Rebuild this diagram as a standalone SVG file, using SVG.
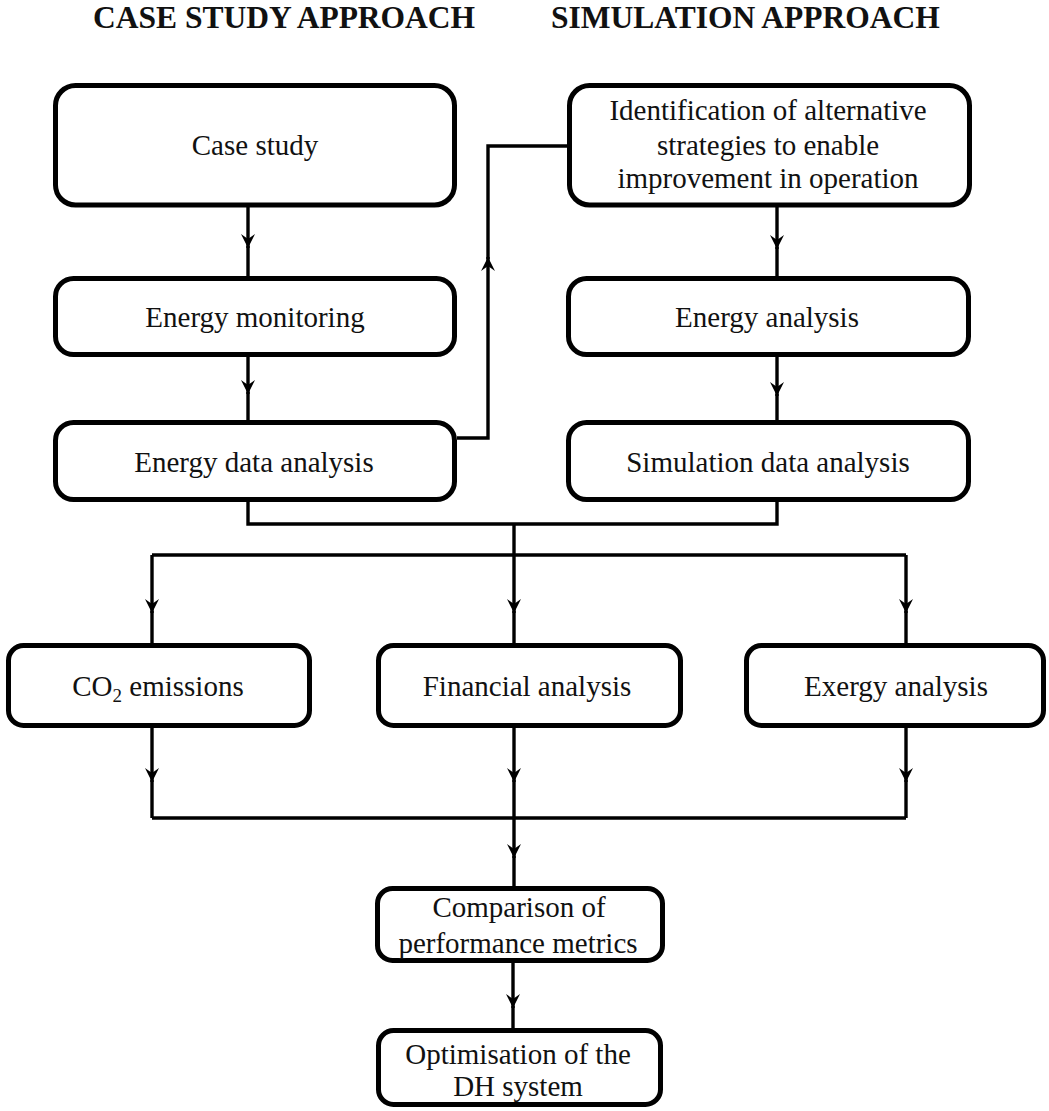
<svg xmlns="http://www.w3.org/2000/svg" width="1049" height="1111" viewBox="0 0 1049 1111">
<style>
.box{fill:#fff;stroke:#000;stroke-width:5}
.t{font-family:"Liberation Serif","Times New Roman",serif;font-size:29px;fill:#111;text-anchor:middle}
.h{font-family:"Liberation Serif","Times New Roman",serif;font-size:31.5px;font-weight:bold;fill:#111}
.c{fill:none;stroke:#000;stroke-width:3.4}
.a{marker-end:url(#arr)}
</style>
<defs>
<marker id="arr" markerUnits="userSpaceOnUse" viewBox="-15 -8 16 16" markerWidth="16" markerHeight="16" refX="0" refY="0" orient="auto">
<path d="M0,0 L-14,-7 L-9,0 L-14,7 Z" fill="#000"/>
</marker>
</defs>
<rect width="1049" height="1111" fill="#fff"/>
<text class="h" x="93" y="28">CASE STUDY APPROACH</text>
<text class="h" x="551" y="28">SIMULATION APPROACH</text>
<g id="connectors">
<path class="c a" d="M248,205 V248"/><path class="c" d="M248,246 V278"/>
<path class="c a" d="M248,355 V394"/><path class="c" d="M248,392 V422"/>
<path class="c a" d="M457,438 H488 V257"/><path class="c" d="M488,259 V146 H567"/>
<path class="c a" d="M777,205 V249"/><path class="c" d="M777,247 V278"/>
<path class="c a" d="M777,355 V396"/><path class="c" d="M777,394 V422"/>
<path class="c" d="M248,500 V524 H777 V500"/>
<path class="c" d="M152,555 H906"/>
<path class="c a" d="M152,555 V613"/><path class="c" d="M152,611 V645"/>
<path class="c a" d="M514,524 V613"/><path class="c" d="M514,611 V645"/>
<path class="c a" d="M906,555 V613"/><path class="c" d="M906,611 V645"/>
<path class="c a" d="M152,726 V782"/><path class="c" d="M152,780 V818"/>
<path class="c a" d="M514,726 V782"/><path class="c" d="M514,780 V818"/>
<path class="c a" d="M906,726 V782"/><path class="c" d="M906,780 V818"/>
<path class="c" d="M152,818 H906"/>
<path class="c a" d="M514,818 V858"/><path class="c" d="M514,856 V888"/>
<path class="c a" d="M513,961 V1008"/><path class="c" d="M513,1006 V1030"/>
</g>
<g id="case-study"><rect class="box" x="55.5" y="85.5" width="399" height="119.5" rx="20"/><text class="t" x="255" y="155">Case study</text></g>
<g id="energy-monitoring"><rect class="box" x="55.5" y="278.5" width="399" height="76" rx="18"/><text class="t" x="255" y="327">Energy monitoring</text></g>
<g id="energy-data-analysis"><rect class="box" x="55.5" y="422.5" width="399" height="77" rx="18"/><text class="t" x="254" y="472">Energy data analysis</text></g>
<g id="identification"><rect class="box" x="569.5" y="85.5" width="400" height="119.5" rx="20"/>
<text class="t" x="768" y="120">Identification of alternative</text>
<text class="t" x="768" y="155">strategies to enable</text>
<text class="t" x="768" y="188">improvement in operation</text></g>
<g id="energy-analysis"><rect class="box" x="568.5" y="278.5" width="400" height="76" rx="18"/><text class="t" x="767" y="327">Energy analysis</text></g>
<g id="simulation-data-analysis"><rect class="box" x="568.5" y="422.5" width="400" height="77" rx="18"/><text class="t" x="768" y="472">Simulation data analysis</text></g>
<g id="co2"><rect class="box" x="8.5" y="645.5" width="301" height="80" rx="15"/><text class="t" x="158" y="696">CO<tspan font-size="19" dy="6">2</tspan><tspan dy="-6"> emissions</tspan></text></g>
<g id="financial"><rect class="box" x="378.5" y="645.5" width="302" height="80" rx="15"/><text class="t" x="527" y="696">Financial analysis</text></g>
<g id="exergy"><rect class="box" x="746.5" y="645.5" width="297" height="80" rx="15"/><text class="t" x="896" y="696">Exergy analysis</text></g>
<g id="comparison"><rect class="box" x="377.5" y="888.5" width="285" height="72" rx="15"/>
<text class="t" x="519" y="917">Comparison of</text>
<text class="t" x="518" y="953">performance metrics</text></g>
<g id="optimisation"><rect class="box" x="378.5" y="1030.5" width="282" height="74" rx="15"/>
<text class="t" x="518" y="1064">Optimisation of the</text>
<text class="t" x="518" y="1096">DH system</text></g>
</svg>
